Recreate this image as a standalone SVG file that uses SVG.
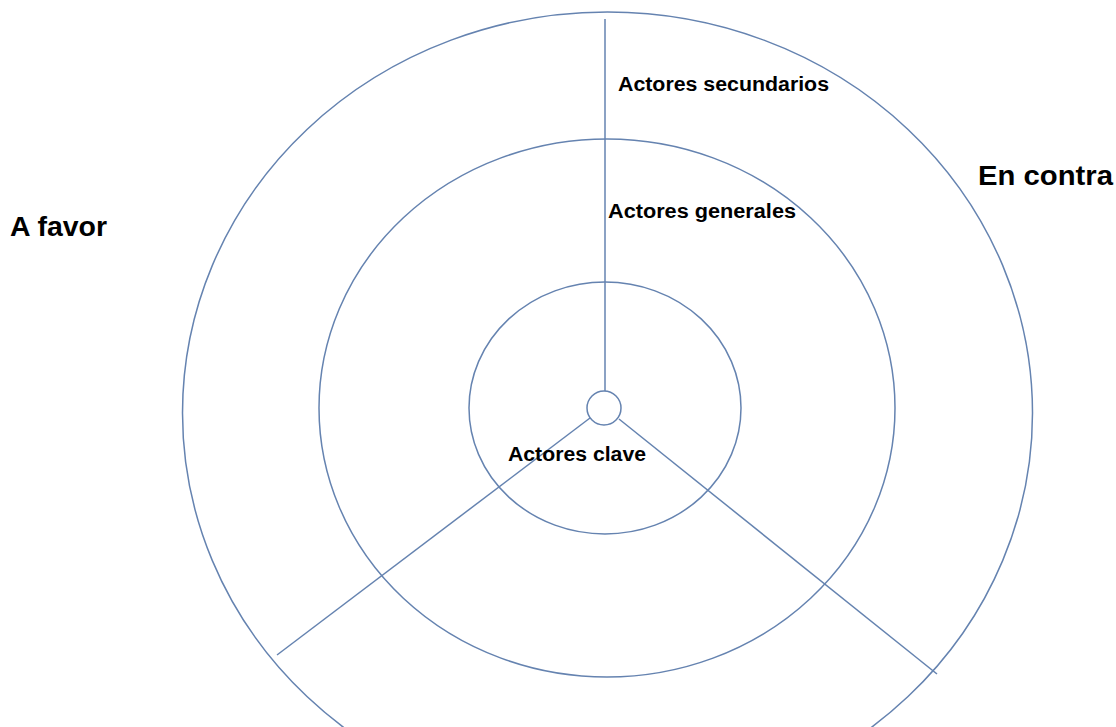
<svg xmlns="http://www.w3.org/2000/svg" width="1116" height="727" viewBox="0 0 1116 727">
<style>
.ring{fill:none;stroke:#6583b0;stroke-width:1.5}
.ln{stroke:#6583b0;stroke-width:1.5;fill:none}
.lbl{font-family:"Liberation Sans",Arial,sans-serif;font-weight:bold;fill:#000}
.s{font-size:20px}
.b{font-size:27px}
</style>
<rect width="1116" height="727" fill="#fff"/>
<g id="outer-ring"><ellipse class="ring" cx="607.5" cy="413" rx="425" ry="401"/></g>
<g id="middle-ring"><ellipse class="ring" cx="607" cy="408" rx="288" ry="269"/></g>
<g id="inner-ring"><ellipse class="ring" cx="605" cy="408" rx="136" ry="126"/></g>
<g id="connectors">
<line class="ln" x1="605" y1="19" x2="605" y2="391"/>
<line class="ln" x1="590" y1="418" x2="277" y2="655"/>
<line class="ln" x1="619" y1="419" x2="937" y2="674"/>
</g>
<g id="center"><circle class="ring" cx="604" cy="408" r="17"/></g>
<g id="label-secundarios"><text class="lbl s" x="618" y="91" textLength="211" lengthAdjust="spacingAndGlyphs">Actores secundarios</text></g>
<g id="label-generales"><text class="lbl s" x="608" y="218" textLength="188" lengthAdjust="spacingAndGlyphs">Actores generales</text></g>
<g id="label-clave"><text class="lbl s" x="508" y="461" textLength="138" lengthAdjust="spacingAndGlyphs">Actores clave</text></g>
<g id="label-afavor"><text class="lbl b" x="10" y="236" textLength="97" lengthAdjust="spacingAndGlyphs">A favor</text></g>
<g id="label-encontra"><text class="lbl b" x="978" y="185" textLength="135" lengthAdjust="spacingAndGlyphs">En contra</text></g>
</svg>
